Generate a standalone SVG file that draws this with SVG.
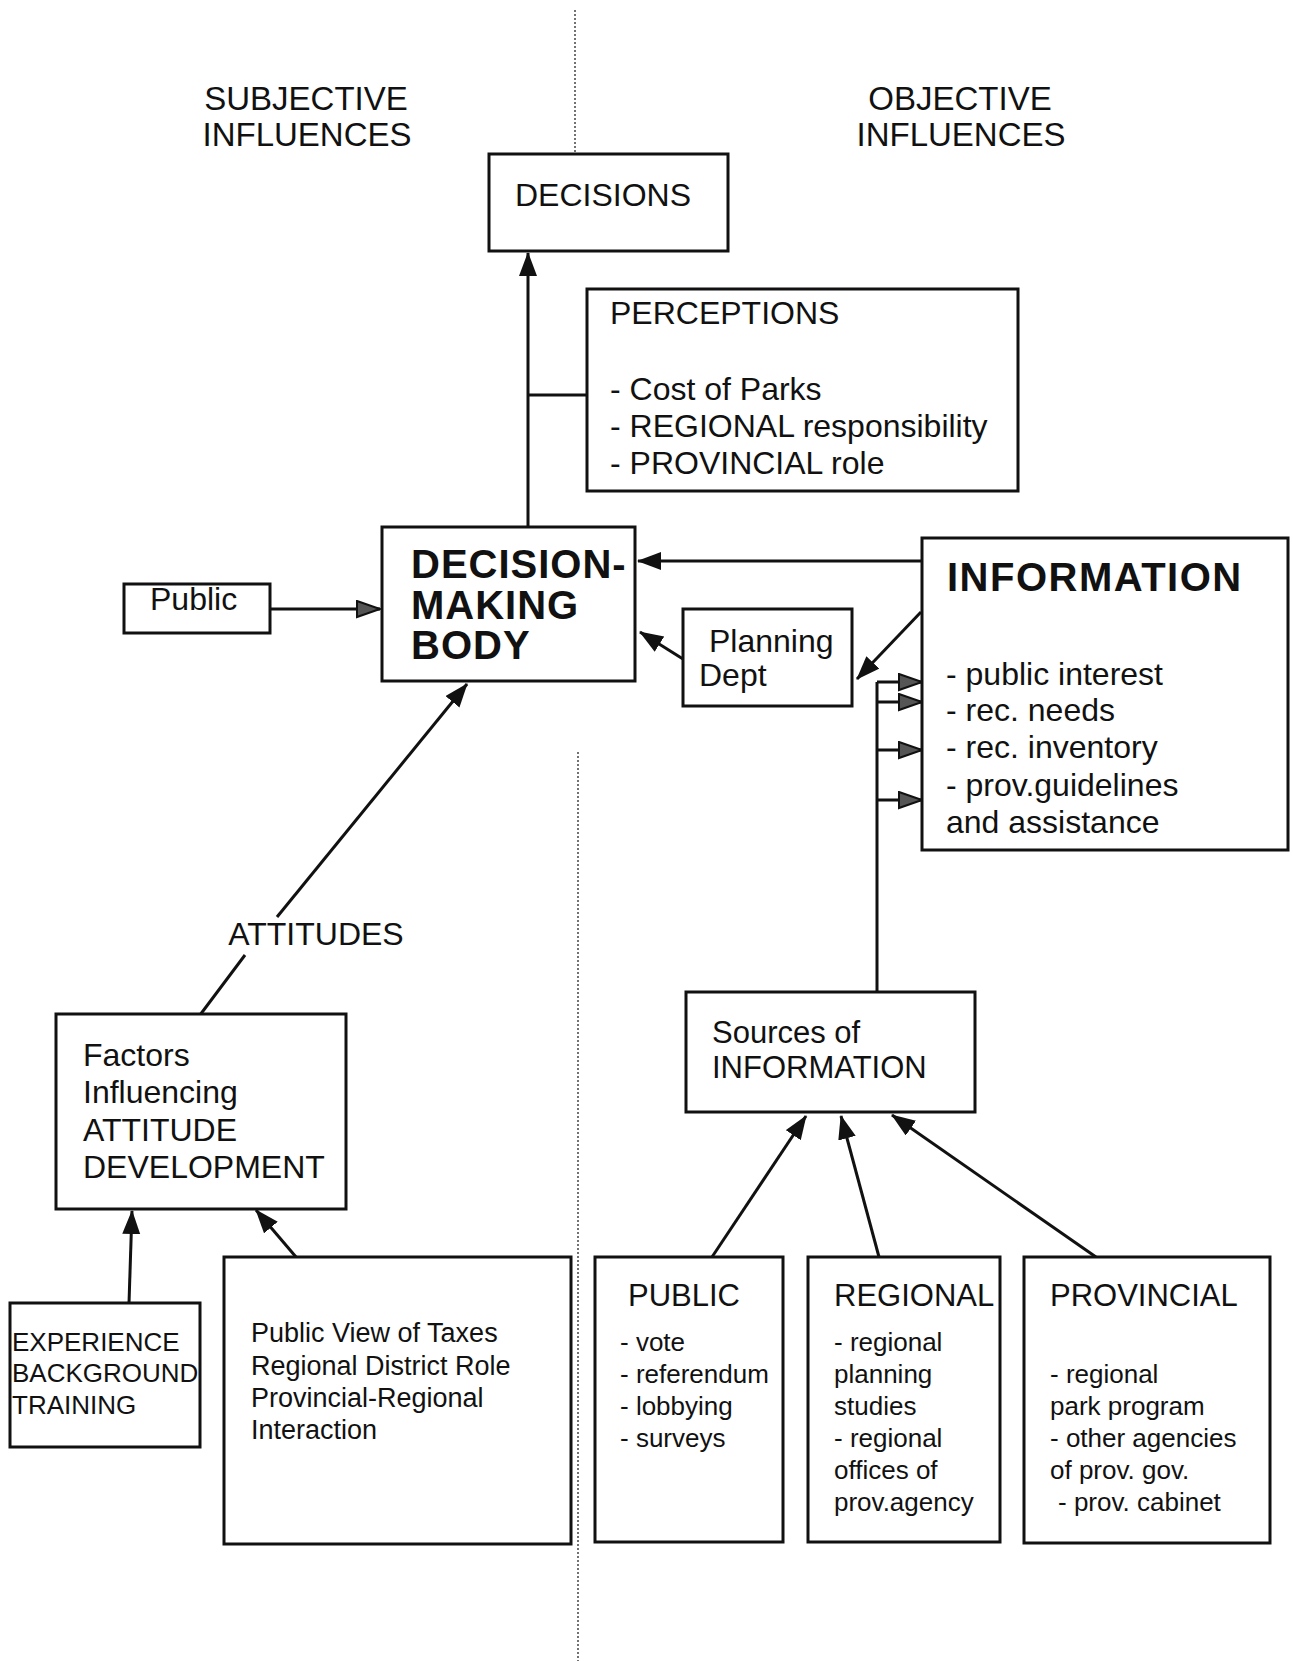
<svg xmlns="http://www.w3.org/2000/svg" width="1293" height="1661" viewBox="0 0 1293 1661">
<style>
  .box{fill:#fff;stroke:#111;stroke-width:3}
  .t{font-family:"Liberation Sans",Arial,sans-serif;fill:#111}
  .h{font-size:33px}
  .m{font-size:32px}
  .s{font-size:26px}
  .b{font-size:40px;font-weight:bold;letter-spacing:1px}
  .ln{fill:none;stroke:#111;stroke-width:3}
  .dot{fill:none;stroke:#444;stroke-width:1.5;stroke-dasharray:2,2}
</style>
<defs>
  <marker id="ah" markerUnits="userSpaceOnUse" markerWidth="26" markerHeight="20" refX="23" refY="9" orient="auto">
    <path d="M0,0 L24,9 L0,18 z" fill="#111"/>
  </marker>
  <marker id="ag" markerUnits="userSpaceOnUse" markerWidth="28" markerHeight="20" refX="24" refY="9" orient="auto">
    <path d="M1,1 L24,9 L1,17 z" fill="#555" stroke="#111" stroke-width="2"/>
  </marker>
</defs>
<rect width="1293" height="1661" fill="#fff"/>

<g id="dividers">
  <line class="dot" x1="575" y1="10" x2="575" y2="154"/>
  <line class="dot" x1="578" y1="752" x2="578" y2="1661"/>
</g>

<g id="headings">
  <text class="t h" x="306" y="110" text-anchor="middle">SUBJECTIVE</text>
  <text class="t h" x="307" y="146" text-anchor="middle">INFLUENCES</text>
  <text class="t h" x="960" y="110" text-anchor="middle">OBJECTIVE</text>
  <text class="t h" x="961" y="146" text-anchor="middle">INFLUENCES</text>
</g>

<g id="connectors">
  <line class="ln" x1="528" y1="527" x2="528" y2="253" marker-end="url(#ah)"/>
  <line class="ln" x1="528" y1="395" x2="587" y2="395"/>
  <line class="ln" x1="270" y1="609" x2="380" y2="609" marker-end="url(#ag)"/>
  <line class="ln" x1="921" y1="561" x2="638" y2="561" marker-end="url(#ah)"/>
  <line class="ln" x1="683" y1="659" x2="640" y2="632" marker-end="url(#ah)"/>
  <line class="ln" x1="921" y1="612" x2="857" y2="679" marker-end="url(#ah)"/>
  <line class="ln" x1="877" y1="682" x2="877" y2="992"/>
  <line class="ln" x1="877" y1="682" x2="922" y2="682" marker-end="url(#ag)"/>
  <line class="ln" x1="877" y1="702" x2="922" y2="702" marker-end="url(#ag)"/>
  <line class="ln" x1="877" y1="750" x2="922" y2="750" marker-end="url(#ag)"/>
  <line class="ln" x1="877" y1="800" x2="922" y2="800" marker-end="url(#ag)"/>
  <line class="ln" x1="277" y1="917" x2="467" y2="684" marker-end="url(#ah)"/>
  <line class="ln" x1="200" y1="1015" x2="245" y2="955"/>
  <line class="ln" x1="129" y1="1303" x2="132" y2="1211" marker-end="url(#ah)"/>
  <line class="ln" x1="296" y1="1257" x2="256" y2="1210" marker-end="url(#ah)"/>
  <line class="ln" x1="712" y1="1257" x2="806" y2="1116" marker-end="url(#ah)"/>
  <line class="ln" x1="879" y1="1257" x2="841" y2="1116" marker-end="url(#ah)"/>
  <line class="ln" x1="1096" y1="1257" x2="892" y2="1115" marker-end="url(#ah)"/>
</g>

<g id="decisions">
  <rect class="box" x="489" y="154" width="239" height="97"/>
  <text class="t m" x="515" y="206">DECISIONS</text>
</g>

<g id="perceptions">
  <rect class="box" x="587" y="289" width="431" height="202"/>
  <text class="t m" x="610" y="324">PERCEPTIONS</text>
  <text class="t m" x="610" y="400">- Cost of Parks</text>
  <text class="t m" x="610" y="437">- REGIONAL responsibility</text>
  <text class="t m" x="610" y="474">- PROVINCIAL role</text>
</g>

<g id="decision-making-body">
  <rect class="box" x="382" y="527" width="253" height="154"/>
  <text class="t b" x="411" y="578">DECISION-</text>
  <text class="t b" x="411" y="619">MAKING</text>
  <text class="t b" x="411" y="659">BODY</text>
</g>

<g id="public">
  <rect class="box" x="124" y="584" width="146" height="49"/>
  <text class="t m" x="150" y="610">Public</text>
</g>

<g id="planning-dept">
  <rect class="box" x="683" y="609" width="169" height="97"/>
  <text class="t m" x="709" y="652">Planning</text>
  <text class="t m" x="699" y="686">Dept</text>
</g>

<g id="information">
  <rect class="box" x="922" y="538" width="366" height="312"/>
  <text class="t b" style="letter-spacing:1.5px" x="947" y="591">INFORMATION</text>
  <text class="t m" x="946" y="685">- public interest</text>
  <text class="t m" x="946" y="721">- rec. needs</text>
  <text class="t m" x="946" y="758">- rec. inventory</text>
  <text class="t m" x="946" y="796">- prov.guidelines</text>
  <text class="t m" x="946" y="833">and assistance</text>
</g>

<g id="attitudes-label">
  <text class="t m" x="316" y="945" text-anchor="middle">ATTITUDES</text>
</g>

<g id="factors">
  <rect class="box" x="56" y="1014" width="290" height="195"/>
  <text class="t m" x="83" y="1066">Factors</text>
  <text class="t m" x="83" y="1103">Influencing</text>
  <text class="t m" x="83" y="1141">ATTITUDE</text>
  <text class="t m" x="83" y="1178">DEVELOPMENT</text>
</g>

<g id="experience">
  <rect class="box" x="10" y="1303" width="190" height="144"/>
  <text class="t s" x="12" y="1351">EXPERIENCE</text>
  <text class="t s" x="12" y="1382">BACKGROUND</text>
  <text class="t s" x="12" y="1414">TRAINING</text>
</g>

<g id="public-view">
  <rect class="box" x="224" y="1257" width="347" height="287"/>
  <text class="t" style="font-size:27px" x="251" y="1342">Public View of Taxes</text>
  <text class="t" style="font-size:27px" x="251" y="1375">Regional District Role</text>
  <text class="t" style="font-size:27px" x="251" y="1407">Provincial-Regional</text>
  <text class="t" style="font-size:27px" x="251" y="1439">Interaction</text>
</g>

<g id="sources">
  <rect class="box" x="686" y="992" width="289" height="120"/>
  <text class="t" style="font-size:31px" x="712" y="1043">Sources of</text>
  <text class="t" style="font-size:31px" x="712" y="1078">INFORMATION</text>
</g>

<g id="public-source">
  <rect class="box" x="595" y="1257" width="188" height="285"/>
  <text class="t" style="font-size:31px" x="628" y="1306">PUBLIC</text>
  <text class="t s" x="620" y="1351">- vote</text>
  <text class="t s" x="620" y="1383">- referendum</text>
  <text class="t s" x="620" y="1415">- lobbying</text>
  <text class="t s" x="620" y="1447">- surveys</text>
</g>

<g id="regional-source">
  <rect class="box" x="808" y="1257" width="192" height="285"/>
  <text class="t" style="font-size:31px" x="834" y="1306">REGIONAL</text>
  <text class="t s" x="834" y="1351">- regional</text>
  <text class="t s" x="834" y="1383">planning</text>
  <text class="t s" x="834" y="1415">studies</text>
  <text class="t s" x="834" y="1447">- regional</text>
  <text class="t s" x="834" y="1479">offices of</text>
  <text class="t s" x="834" y="1511">prov.agency</text>
</g>

<g id="provincial-source">
  <rect class="box" x="1024" y="1257" width="246" height="286"/>
  <text class="t" style="font-size:31px" x="1050" y="1306">PROVINCIAL</text>
  <text class="t s" x="1050" y="1383">- regional</text>
  <text class="t s" x="1050" y="1415">park program</text>
  <text class="t s" x="1050" y="1447">- other agencies</text>
  <text class="t s" x="1050" y="1479">of prov. gov.</text>
  <text class="t s" x="1058" y="1511">- prov. cabinet</text>
</g>
</svg>
